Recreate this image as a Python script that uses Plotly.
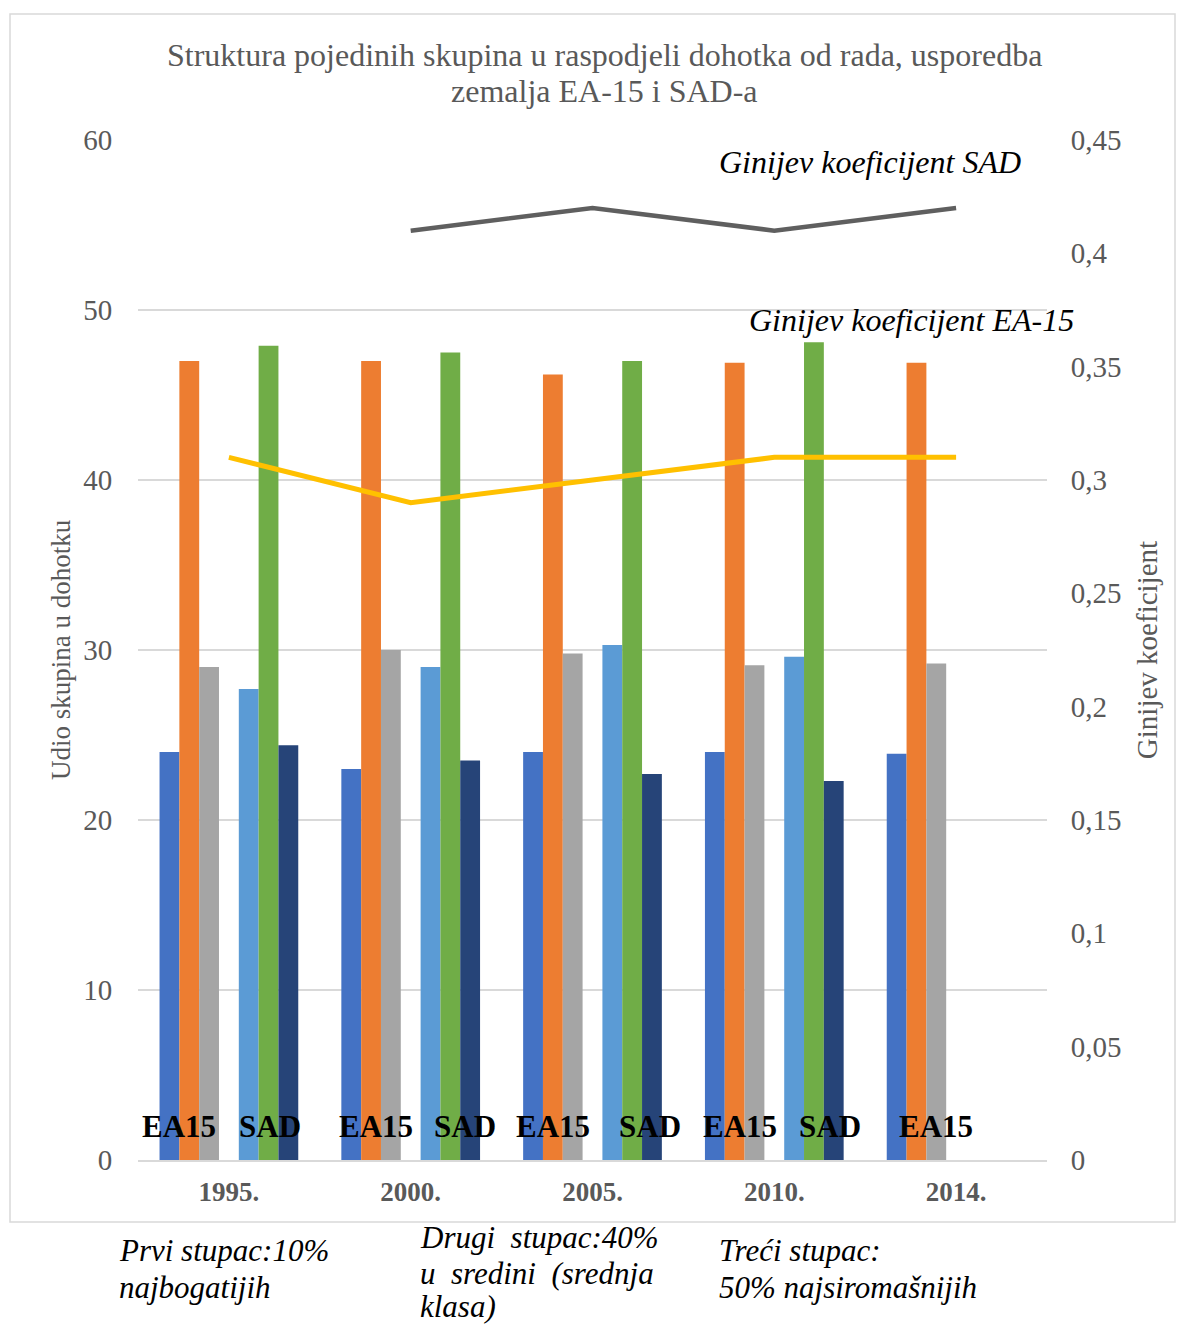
import plotly.graph_objects as go
from plotly.subplots import make_subplots

# ---------------- data ----------------
years = ["1995.", "2000.", "2005.", "2010.", "2014."]
ea15_top10 = [24.0, 23.0, 24.0, 24.0, 23.9]
ea15_mid40 = [47.0, 47.0, 46.2, 46.9, 46.9]
ea15_bot50 = [29.0, 30.0, 29.8, 29.1, 29.2]
sad_top10 = [27.7, 29.0, 30.3, 29.6, None]
sad_mid40 = [47.9, 47.5, 47.0, 48.1, None]
sad_bot50 = [24.4, 23.5, 22.7, 22.3, None]
gini_ea15 = [0.31, 0.29, 0.30, 0.31, 0.31]
gini_sad = [None, 0.41, 0.42, 0.41, 0.42]

group_label_ea = ["EA15", "EA15", "EA15", "EA15", "EA15"]
group_label_sad = ["SAD", "SAD", "SAD", "SAD", None]

title_lines = ["Struktura pojedinih skupina u raspodjeli dohotka od rada, usporedba",
               "zemalja EA-15 i SAD-a"]

# ---------------- layout constants ----------------
# the page body adds an 8px margin, so the figure is drawn 8px smaller/offset
PAGE = 8
W, H = 1185 - PAGE, 1326 - PAGE
L, R, T, B = 138, 1047, 140, 1160          # plot area in reference pixels
SERIF = "Liberation Serif, Times New Roman, serif"
GREY_TXT = "#595959"
GRID = "#d9d9d9"


def px(xpix):
    return (xpix - L) / (R - L)


def py(ypix):
    return (B - ypix) / (B - T)


fig = make_subplots(specs=[[{"secondary_y": True}]])

w = 0.109
bars = [
    ("EA15 10% najbogatijih", ea15_top10, "#4472C4", -3.5),
    ("EA15 40% srednja klasa", ea15_mid40, "#ED7D31", -2.5),
    ("EA15 50% najsiromašnijih", ea15_bot50, "#A5A5A5", -1.5),
    ("SAD 10% najbogatijih", sad_top10, "#5B9BD5", 0.5),
    ("SAD 40% srednja klasa", sad_mid40, "#70AD47", 1.5),
    ("SAD 50% najsiromašnijih", sad_bot50, "#264478", 2.5),
]
for name, vals, col, off in bars:
    fig.add_trace(go.Bar(x=years, y=vals, name=name, marker_color=col,
                         marker_line_width=0, width=w, offset=off * w,
                         showlegend=False), secondary_y=False)

fig.add_trace(go.Scatter(x=years, y=gini_ea15, mode="lines", name="Ginijev koeficijent EA-15",
                         line=dict(color="#FFC000", width=5), showlegend=False),
              secondary_y=True)
fig.add_trace(go.Scatter(x=years, y=gini_sad, mode="lines", name="Ginijev koeficijent SAD",
                         line=dict(color="#5F5F5F", width=4.5), showlegend=False),
              secondary_y=True)

annotations = []
# title lines
for txt, yy in zip(title_lines, [55, 91]):
    annotations.append(dict(text=txt, x=px(604), y=py(yy), xref="paper", yref="paper",
                            showarrow=False, xanchor="center", yanchor="middle",
                            font=dict(family=SERIF, size=32, color=GREY_TXT)))

# group labels (x given as category index)
ea_shift = [-50, -35, -40, -34, -20]
sad_shift = [41, 54, 57, 56, 0]
for i, (lab, sh) in enumerate(zip(group_label_ea, ea_shift)):
    annotations.append(dict(text="<b>%s</b>" % lab, x=i, y=2.0, xref="x", yref="y",
                            xshift=sh, showarrow=False,
                            font=dict(family=SERIF, size=31, color="black")))
for i, (lab, sh) in enumerate(zip(group_label_sad, sad_shift)):
    if lab:
        annotations.append(dict(text="<b>%s</b>" % lab, x=i, y=2.0, xref="x", yref="y",
                                xshift=sh, showarrow=False,
                                font=dict(family=SERIF, size=31, color="black")))

# line labels
annotations.append(dict(text="<i>Ginijev koeficijent SAD</i>", x=px(717), y=py(162),
                        xref="paper", yref="paper", xanchor="left", yanchor="middle",
                        showarrow=False, font=dict(family=SERIF, size=32, color="black")))
annotations.append(dict(text="<i>Ginijev koeficijent EA-15</i>", x=px(747), y=py(320),
                        xref="paper", yref="paper", xanchor="left", yanchor="middle",
                        showarrow=False, font=dict(family=SERIF, size=32, color="black")))

# notes below chart
NB = "\u00a0"
notes = [
    ("Prvi stupac:10%", 117, 1250),
    ("najbogatijih", 117, 1287),
    ("Drugi" + NB * 2 + "stupac:40%", 418, 1237),
    ("u" + NB * 2 + "sredini" + NB * 2 + "(srednja", 418, 1273),
    ("klasa)", 418, 1306),
    ("Treći stupac:", 717, 1250),
    ("50% najsiromašnijih", 717, 1287),
]
for txt, xx, yy in notes:
    annotations.append(dict(text="<i>%s</i>" % txt, x=px(xx), y=py(yy), xref="paper",
                            yref="paper", xanchor="left", yanchor="middle",
                            showarrow=False,
                            font=dict(family=SERIF, size=31, color="black")))

fig.update_layout(
    width=W, height=H,
    margin=dict(l=L - PAGE, r=W - (R - PAGE), t=T - PAGE, b=H - (B - PAGE), pad=0),
    paper_bgcolor="white", plot_bgcolor="white",
    barmode="overlay",
    separators=",.",
    annotations=annotations,
    shapes=[dict(type="rect", xref="paper", yref="paper",
                 x0=px(10), x1=px(1175), y0=py(1222), y1=py(14),
                 line=dict(color=GRID, width=1.5), fillcolor="rgba(0,0,0,0)", layer="below")],
)

fig.update_xaxes(type="category", domain=[0, 1], range=[-0.5, 4.5], autorange=False,
                 showgrid=False, showline=True, linecolor=GRID, linewidth=1.5,
                 ticks="outside", ticklen=7, tickcolor="rgba(0,0,0,0)",
                 tickfont=dict(family=SERIF, size=27, color=GREY_TXT, weight="bold"))
fig.update_yaxes(range=[0, 60], dtick=10, showgrid=True, gridcolor=GRID, gridwidth=1.5,
                 zeroline=False, ticks="outside", ticklen=19, tickcolor="rgba(0,0,0,0)",
                 tickfont=dict(family=SERIF, size=29, color=GREY_TXT),
                 title=dict(text="Udio skupina u dohotku", standoff=4,
                            font=dict(family=SERIF, size=27, color=GREY_TXT)),
                 secondary_y=False)
fig.update_yaxes(range=[0, 0.45], dtick=0.05, showgrid=False, zeroline=False,
                 ticks="outside", ticklen=17, tickcolor="rgba(0,0,0,0)",
                 tickfont=dict(family=SERIF, size=29, color=GREY_TXT),
                 title=dict(text="Ginijev koeficijent", standoff=16,
                            font=dict(family=SERIF, size=29, color=GREY_TXT)),
                 secondary_y=True)

fig.write_html("out.html")
